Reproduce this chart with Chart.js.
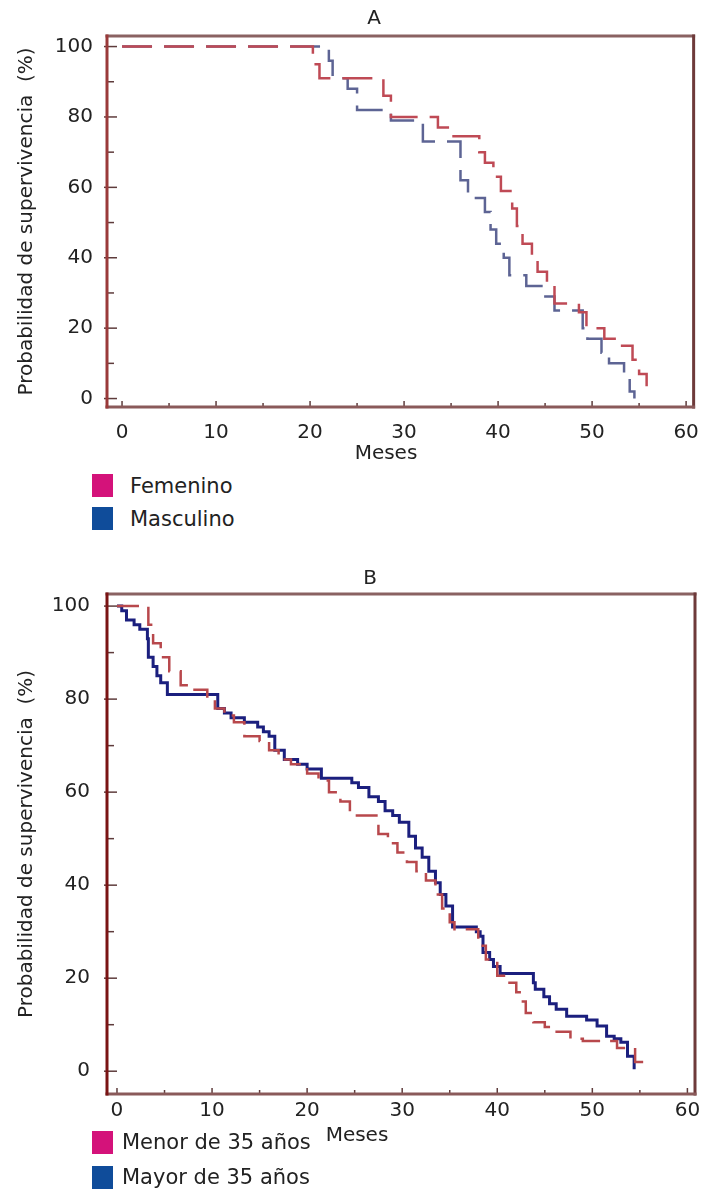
<!DOCTYPE html>
<html>
<head>
<meta charset="utf-8">
<script src="https://cdn.jsdelivr.net/npm/chart.js@4.4.1/dist/chart.umd.min.js"></script>
<style>
  body { margin: 0; background: #fff; font-family: "DejaVu Sans", sans-serif; color: #222; }
  #page { position: relative; width: 713px; height: 1192px; overflow: hidden; }
  canvas { position: absolute; left: 0; }
  .txt { position: absolute; font-size: 20px; white-space: nowrap; transform: translate(-50%, -50%); }
  .box { position: absolute; width: 21px; height: 23px; }
  .lbl { position: absolute; font-size: 21px; white-space: nowrap; transform: translateY(-50%); }
</style>
</head>
<body>
<div id="page">
  <canvas id="chartA" width="713" height="445" style="top:0"></canvas>
  <canvas id="chartB" width="713" height="575" style="top:555px"></canvas>

  <div class="txt" style="left:374px; top:17px">A</div>
  <div class="txt" style="left:386px; top:452px">Meses</div>
  <div class="box" style="left:92px; top:474px; background:#d4127a"></div>
  <div class="lbl" style="left:130px; top:486px">Femenino</div>
  <div class="box" style="left:92px; top:507px; background:#0f4c9a"></div>
  <div class="lbl" style="left:130px; top:519px">Masculino</div>

  <div class="txt" style="left:370px; top:577px">B</div>
  <div class="txt" style="left:357px; top:1134px">Meses</div>
  <div class="box" style="left:92px; top:1131px; background:#d4127a"></div>
  <div class="lbl" style="left:122px; top:1142px">Menor de 35 años</div>
  <div class="box" style="left:92px; top:1166px; background:#0f4c9a"></div>
  <div class="lbl" style="left:122px; top:1177px">Mayor de 35 años</div>
</div>

<script>
// tick labels
const monthTicks = [0, 10, 20, 30, 40, 50, 60];
const pctTicks = [0, 20, 40, 60, 80, 100];

// A: supervivencia por sexo (meses, %)
const femMonths = [0, 20.3, 21, 27.8, 28.6, 33.6, 35, 38, 38.6, 39.5, 40.3, 41.5, 42, 42.6, 43.6, 44.2, 45.2, 46, 48.6, 49.4, 51.3, 53, 54.3, 55, 55.8];
const femSurv   = [100, 95, 91, 86, 80, 77, 74.5, 70, 67, 63, 59, 54, 49, 44, 40, 36, 32, 27, 24.5, 20, 17, 15, 11, 7, 3.5];
const mascMonths = [0, 22, 22.4, 24, 25, 28.6, 32, 36, 36.8, 38.6, 39.2, 39.8, 40.6, 41.2, 43, 44.8, 46, 49, 49.5, 51, 51.8, 53.4, 54, 54.5];
const mascSurv   = [100, 96, 91, 88, 82, 79, 73, 62, 57, 53, 48, 44, 40, 35, 32, 29, 25, 20, 17, 13, 10, 6, 2, 0];

// B: supervivencia por edad (meses, %)
const menorMonths = [0, 3.3, 3.8, 4.6, 5.5, 6.7, 8, 9.5, 10.3, 11.3, 12.3, 13.4, 15, 16, 17, 18.3, 20, 21.2, 22.3, 23.5, 24.5, 27.5, 28.5, 29.5, 30.5, 31.5, 32.5, 33.5, 34.2, 35, 35.5, 38, 38.8, 40, 41, 42, 42.5, 43, 43.8, 45, 46, 47.7, 49, 52.6, 54.5, 55.8];
const menorSurv   = [100, 96, 92, 89, 86, 83, 82, 80, 78, 76.5, 75, 72, 71, 69, 67, 66, 64, 62.5, 60, 58, 55, 51, 49, 47, 45, 43, 41, 38, 35, 32, 30.5, 27, 24, 20.5, 19, 17, 15, 12.5, 10.5, 9.5, 8.5, 7, 6.5, 5, 2, 1.5];
const mayorMonths = [0, 0.5, 1, 1.8, 2.4, 3.2, 3.3, 3.8, 4.2, 4.6, 5.3, 10.6, 11.3, 12, 13.4, 14.8, 15.4, 16, 16.6, 17.6, 19, 20, 21.5, 24.7, 25.4, 26.5, 27.5, 28.2, 29, 29.7, 30.7, 31.4, 32.1, 32.8, 33.5, 34, 34.6, 35.3, 37.8, 38.2, 38.5, 39.2, 39.6, 40.3, 43.8, 44, 44.9, 45.5, 46.2, 47.3, 49.4, 50.5, 51.5, 52.3, 53, 53.7, 54.4];
const mayorSurv   = [100, 99, 97, 96, 95, 93, 89, 87, 85, 83.5, 81, 78, 77, 76, 75, 74, 73, 72, 69, 67, 66, 65, 63, 62, 61, 59, 58, 56, 55, 53.5, 50.5, 48, 46, 43, 40.5, 38, 35.5, 31, 30, 29, 25.5, 24, 22.5, 21, 19, 17.6, 16, 14.5, 13.3, 11.8, 11, 9.7, 7.5, 7, 6.2, 3.2, 0.4];

const toPoints = (xs, ys) => xs.map((x, i) => ({ x: x, y: ys[i] }));

const FONT = 'DejaVu Sans';

// frame around the plot area plus short inward tick marks
const framePlugin = {
  id: 'frame',
  afterDraw(chart, args, opts) {
    const { ctx, chartArea: a, scales } = chart;
    ctx.save();
    ctx.lineWidth = 1.5;
    ctx.strokeStyle = '#5e3c3c';
    for (let v = 0; v <= 60; v += 5) {
      const px = scales.x.getPixelForValue(v);
      const len = v % 10 === 0 ? 6 : 4;
      ctx.beginPath();
      ctx.moveTo(px, a.bottom);
      ctx.lineTo(px, a.bottom - len);
      ctx.stroke();
    }
    for (let v = 0; v <= 100; v += 10) {
      const py = scales.y.getPixelForValue(v);
      const len = v % 20 === 0 ? 10 : 7;
      ctx.beginPath();
      ctx.moveTo(a.left - (v % 20 === 0 ? 3 : 0), py);
      ctx.lineTo(a.left + len, py);
      ctx.stroke();
    }
    ctx.lineWidth = 3;
    ctx.lineCap = 'square';
    const side = (x1, y1, x2, y2, c) => {
      ctx.strokeStyle = c;
      ctx.beginPath();
      ctx.moveTo(x1, y1);
      ctx.lineTo(x2, y2);
      ctx.stroke();
    };
    side(a.left, a.top, a.right, a.top, '#8a6262');
    side(a.right, a.top, a.right, a.bottom, '#6e3a3a');
    side(a.left, a.bottom, a.right, a.bottom, '#8a5a5a');
    side(a.left, a.top, a.left, a.bottom, opts.leftColor);
    ctx.restore();
  }
};

function buildScales(cfg) {
  return {
    x: {
      type: 'linear',
      min: cfg.xMin,
      max: cfg.xMax,
      afterBuildTicks: s => { s.ticks = monthTicks.map(v => ({ value: v })); },
      afterFit: s => { s.height = cfg.xHeight; },
      grid: { display: false, drawTicks: false },
      border: { display: false },
      ticks: { padding: cfg.xPad, autoSkip: false, maxRotation: 0, color: '#222', font: { family: FONT, size: 20 } }
    },
    y: {
      type: 'linear',
      min: cfg.yMin,
      max: cfg.yMax,
      afterBuildTicks: s => { s.ticks = pctTicks.map(v => ({ value: v })); },
      afterFit: s => { s.width = 107; },
      grid: { display: false, drawTicks: false },
      border: { display: false },
      ticks: { padding: cfg.yPad, color: '#222', font: { family: FONT, size: 20 } },
      title: {
        display: true,
        text: 'Probabilidad de supervivencia  (%)',
        color: '#222',
        font: { family: FONT, size: 20 },
        padding: { top: 15, bottom: 0 }
      }
    }
  };
}

function makeChart(id, datasets, cfg) {
  return new Chart(document.getElementById(id), {
    type: 'line',
    data: { datasets: datasets },
    options: {
      responsive: false,
      animation: false,
      devicePixelRatio: 1,
      layout: { padding: { top: cfg.top, right: cfg.right, left: 0, bottom: 0 } },
      elements: { point: { radius: 0 }, line: { tension: 0, fill: false } },
      scales: buildScales(cfg),
      plugins: {
        legend: { display: false },
        tooltip: { enabled: false },
        frame: { leftColor: cfg.leftColor }
      }
    },
    plugins: [framePlugin]
  });
}

makeChart('chartA', [
  { label: 'Femenino', data: toPoints(femMonths, femSurv), stepped: 'before',
    borderColor: '#bf4a55', borderWidth: 2.5, borderDash: [30, 12] },
  { label: 'Masculino', data: toPoints(mascMonths, mascSurv), stepped: 'before',
    borderColor: '#5d6494', borderWidth: 2.5, borderDash: [30, 12] }
], { xMin: -1.6, xMax: 60.8, yMin: -2.4, yMax: 103, top: 36, right: 13, xHeight: 38, xPad: 14, yPad: 14, leftColor: '#9a3a3a' });

makeChart('chartB', [
  { label: 'Menor de 35 años', data: toPoints(menorMonths, menorSurv), stepped: 'before',
    borderColor: '#b8484c', borderWidth: 2.5, borderDash: [22, 10] },
  { label: 'Mayor de 35 años', data: toPoints(mayorMonths, mayorSurv), stepped: 'before',
    borderColor: '#1b1f7e', borderWidth: 3 }
], { xMin: -1.05, xMax: 60.8, yMin: -4.9, yMax: 102.6, top: 39, right: 18, xHeight: 36, xPad: 5, yPad: 17, leftColor: '#7a1414' });
</script>
</body>
</html>
